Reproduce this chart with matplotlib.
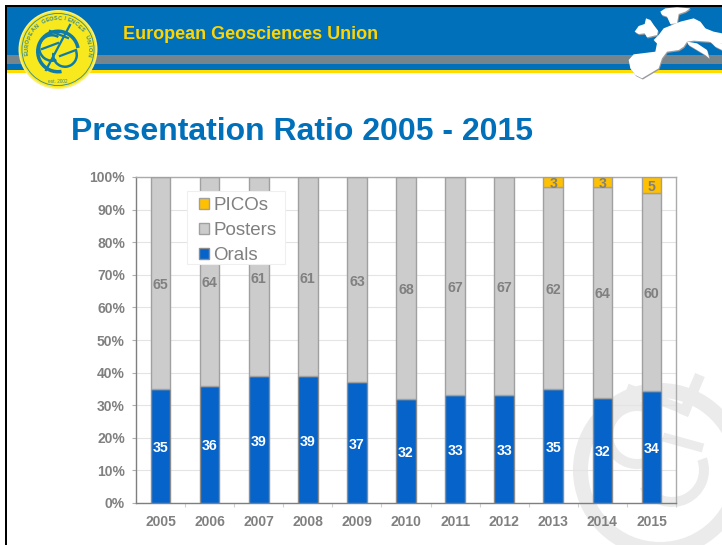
#!/usr/bin/env python3
"""Presentation ratio slide: 100% stacked bars on a mock EGU slide background."""
import numpy as np
import matplotlib
matplotlib.use("Agg")
import matplotlib.pyplot as plt
import matplotlib.patches as mpatches
from matplotlib.transforms import IdentityTransform

plt.rcParams["font.family"] = ["Liberation Sans", "DejaVu Sans"]

YEARS = [2005, 2006, 2007, 2008, 2009, 2010, 2011, 2012, 2013, 2014, 2015]
ORALS = [35, 36, 39, 39, 37, 32, 33, 33, 35, 32, 34]
POSTERS = [65, 64, 61, 61, 63, 68, 67, 67, 62, 64, 60]
PICOS = [0, 0, 0, 0, 0, 0, 0, 0, 3, 3, 5]
PCT_TICKS = [0, 10, 20, 30, 40, 50, 60, 70, 80, 90, 100]

W, H = 722, 545
BLUE_HDR = "#0070BA"
YELLOW = "#FFDD00"
GREY_TXT = "#808080"
LOGO_BLUE = "#0F7CA8"


def ring(ax, cx, cy, r, width, color, z=1, t1=0, t2=360):
    ax.add_patch(mpatches.Wedge((cx, cy), r, t1, t2, width=width, fc=color,
                                ec="none", zorder=z))


def draw_logo(bg):
    cx, cy = 58, 49.5
    bg.add_patch(mpatches.Circle((cx, cy), 39.5, fc="#FBF07A", ec="none", zorder=3))
    bg.add_patch(mpatches.Circle((cx, cy), 38, fc="#F8E81E", ec="none", zorder=3))
    ring(bg, cx, cy, 36.5, 0.9, "#3C8C8C", 4)
    ring(bg, cx, cy + 2, 22, 3.5, LOGO_BLUE, 4, 80, 350)
    # E and G inside the globe
    ring(bg, 52, 48, 14, 2.5, LOGO_BLUE, 4, 70, 300)
    ring(bg, 65, 55, 13, 2.5, LOGO_BLUE, 4, 340, 190)
    bg.plot([70, 46], [25, 70], color=LOGO_BLUE, lw=1.6, zorder=4)
    bg.plot([50, 68], [31, 38], color=LOGO_BLUE, lw=1.6, zorder=4)
    bg.plot([42, 58], [49, 43], color=LOGO_BLUE, lw=1.6, zorder=4)
    bg.plot([60, 76], [56, 50], color=LOGO_BLUE, lw=1.6, zorder=4)
    # lettering round the seal
    text = "EUROPEAN GEOSCIENCES UNION"
    for ch, ang in zip(text, np.linspace(172, 368, len(text))):
        a = np.deg2rad(ang)
        bg.text(cx + 31 * np.cos(a), cy + 31 * np.sin(a), ch, fontsize=4,
                fontweight="bold", color="#3C8C8C", ha="center", va="center",
                zorder=5, rotation=270 - ang)
    bg.text(cx, 81.5, "est. 2002", fontsize=3.4, color="#3C8C8C", ha="center",
            va="center", zorder=5)


def draw_map(bg):
    def conv(pts, dx=0.0, dy=0.0):
        return [(622 + x / 3 + dx, y / 3 + dy) for x, y in pts]
    land = [(25, 205), (20, 180), (35, 163), (60, 160), (100, 155), (105, 130), (95, 120),
            (110, 105), (125, 85), (150, 75), (175, 65), (215, 55), (235, 65), (250, 85),
            (275, 95), (300, 100), (300, 130), (285, 130), (260, 125), (215, 122),
            (195, 125), (185, 140), (170, 150), (135, 155), (120, 175), (110, 205),
            (85, 220), (60, 235), (40, 225)]
    italy = [(195, 125), (225, 130), (255, 150), (262, 175), (250, 165), (225, 150), (200, 135)]
    balkan = [(265, 125), (300, 130), (300, 150), (280, 140)]
    uk = [(38, 95), (50, 78), (68, 72), (72, 55), (85, 60), (95, 75), (108, 92), (105, 105),
          (75, 112), (68, 100), (50, 102)]
    scan = [(115, 35), (130, 25), (165, 22), (205, 25), (190, 35), (170, 42), (165, 70),
            (145, 72), (135, 50), (120, 45)]
    for pts in (land, italy, balkan, uk, scan):
        bg.add_patch(mpatches.Polygon(conv(pts, 0.8, 1.2), fc="#9A9A9A", ec="none", zorder=5))
    for pts in (land, italy, balkan, uk, scan):
        bg.add_patch(mpatches.Polygon(conv(pts), fc="white", ec="none", zorder=6))


def draw_watermark(bg):
    c = "#EBEBEB"
    ring(bg, 660, 470, 87, 15, c, 1)
    ring(bg, 637, 435, 34, 10, c, 1, 50, 290)
    bg.plot([700, 683], [375, 415], color=c, lw=7.5, solid_capstyle="butt", zorder=1)
    bg.plot([627, 690], [388, 412], color=c, lw=6.5, solid_capstyle="butt", zorder=1)
    bg.plot([663, 703], [437, 448], color=c, lw=6.5, solid_capstyle="butt", zorder=1)
    ring(bg, 672, 470, 37, 10, c, 1, 340, 150)


def draw_slide(fig):
    bg = fig.add_axes([0, 0, 1, 1], zorder=0)
    bg.set_xlim(0, W)
    bg.set_ylim(H, 0)
    bg.axis("off")
    for y0, y1, col in [(7, 55, BLUE_HDR), (55, 64, "#76858C"), (64, 70, BLUE_HDR),
                        (70, 73, YELLOW)]:
        bg.add_patch(mpatches.Rectangle((7, y0), W - 7, y1 - y0, fc=col, ec="none", zorder=2))
    bg.add_patch(mpatches.Rectangle((5, 5), W - 5, 2, fc="black", ec="none", zorder=7))
    bg.add_patch(mpatches.Rectangle((5, 5), 2, H - 5, fc="black", ec="none", zorder=7))
    draw_watermark(bg)
    draw_logo(bg)
    draw_map(bg)
    bg.text(123, 39, "European Geosciences Union", color="#FFD400", fontsize=12.95,
            fontweight="bold", ha="left", va="baseline", zorder=5)
    bg.text(71, 140.5, "Presentation Ratio 2005 - 2015", color=BLUE_HDR, fontsize=23,
            fontweight="bold", ha="left", va="baseline", zorder=5)


def seg_label(ax, x, y, s, color):
    ax.annotate(s, (x, y), xytext=(0, -1.5), textcoords="offset points", color=color,
                fontsize=10.2, fontweight="bold", ha="center", va="center", zorder=4)


def draw_chart(fig):
    left, right, top, bottom = 136, 676, 177, 503
    ax = fig.add_axes([left / W, 1 - bottom / H, (right - left) / W, (bottom - top) / H],
                      zorder=2)
    ax.patch.set_visible(False)

    orals = np.array(ORALS, float)
    posters = np.array(POSTERS, float)
    picos = np.array(PICOS, float)
    total = orals + posters + picos
    orals_p = orals / total * 100
    posters_p = posters / total * 100
    picos_p = picos / total * 100

    x = np.arange(len(YEARS))
    bw = 0.40
    ax.bar(x, orals_p, bw, color="#0563C9", edgecolor="#8C8C8C", lw=1, label="Orals", zorder=3)
    ax.bar(x, posters_p, bw, bottom=orals_p, color="#CCCCCC", edgecolor="#A0A0A0", lw=1,
           label="Posters", zorder=3)
    ax.bar(x, picos_p, bw, bottom=orals_p + posters_p, color="#FFC000", edgecolor="#A0A0A0",
           lw=1, label="PICOs", zorder=3)

    for i in x:
        seg_label(ax, i, orals_p[i] / 2, f"{ORALS[i]}", "white")
        seg_label(ax, i, orals_p[i] + posters_p[i] / 2, f"{POSTERS[i]}", GREY_TXT)
        if PICOS[i]:
            seg_label(ax, i, orals_p[i] + posters_p[i] + picos_p[i] / 2, f"{PICOS[i]}", GREY_TXT)

    ax.set_xlim(-0.5, len(YEARS) - 0.5)
    ax.set_ylim(0, 100)
    ax.set_yticks(PCT_TICKS)
    ax.set_yticklabels([f"{p}%" for p in PCT_TICKS])
    ax.set_xticks(x)
    ax.set_xticklabels([str(y) for y in YEARS])
    ax.set_xticks(np.append(x[:-1] + 0.5, len(YEARS) - 0.5), minor=True)
    ax.grid(axis="y", color="#E4E4E4", lw=0.8, zorder=0)
    ax.set_axisbelow(True)
    ax.tick_params(axis="x", which="major", length=0, pad=9, labelsize=10, labelcolor=GREY_TXT)
    ax.tick_params(axis="x", which="minor", length=3, color="#D0D0D0", width=0.8)
    ax.tick_params(axis="y", length=3, color="#B0B0B0", width=0.8, pad=5, labelsize=10,
                   labelcolor=GREY_TXT)
    for lab in ax.get_xticklabels() + ax.get_yticklabels():
        lab.set_fontweight("bold")
    for side in ("left", "bottom"):
        ax.spines[side].set_color("#7F7F7F")
        ax.spines[side].set_linewidth(1)
    for side in ("top", "right"):
        ax.spines[side].set_color("#ABABAB")
        ax.spines[side].set_linewidth(1)

    # legend box is wider than its rows, so the frame is drawn on its own
    ax.add_patch(mpatches.Rectangle((187, H - 264), 98, 73, transform=IdentityTransform(),
                                    fc="white", ec="#EFEFEF", lw=0.8, zorder=5))
    h, l = ax.get_legend_handles_labels()
    leg = ax.legend(h[::-1], l[::-1], loc="upper left",
                    bbox_to_anchor=((199 - left) / (right - left), 1 - (197 - top) / (bottom - top)),
                    borderaxespad=0, borderpad=0, fontsize=13.5, frameon=False,
                    labelcolor=GREY_TXT, handlelength=0.55, handleheight=0.55,
                    handletextpad=0.2, labelspacing=0.43)
    leg.set_zorder(6)


def main():
    fig = plt.figure(figsize=(W / 100, H / 100), dpi=100, facecolor="white")
    draw_slide(fig)
    draw_chart(fig)
    fig.savefig("out.png", dpi=100)
    plt.close(fig)


if __name__ == "__main__":
    main()
